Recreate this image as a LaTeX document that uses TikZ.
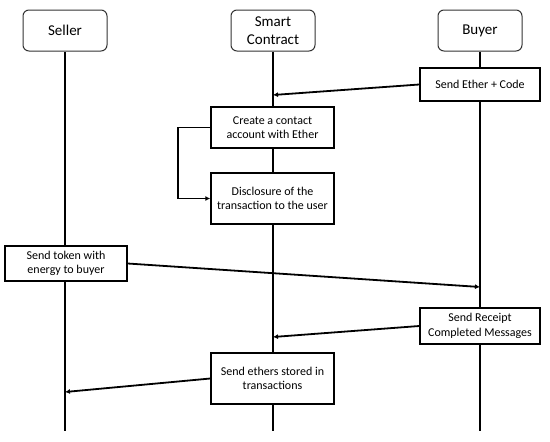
\documentclass[tikz,border=0pt]{standalone}
\usepackage{fontspec}
\setmainfont{Carlito}
\usetikzlibrary{arrows.meta, positioning, backgrounds}

\tikzset{
  actor/.style={draw=black!80, line width=1pt, rounded corners=6pt, fill=white,
    minimum width=84pt, minimum height=41pt, align=center, font=\fontsize{15}{18}\selectfont},
  action/.style={draw=black, line width=1.4pt, fill=white, inner sep=0pt,
    align=center, font=\fontsize{12}{14.5}\selectfont},
  lifeline/.style={line width=2.2pt},
  msg/.style={line width=1.8pt, -{Latex[length=5pt,width=5pt]}}
}

\begin{document}
\begin{tikzpicture}[x=1pt, y=-1pt]
\useasboundingbox (0,0) rectangle (550,442);

% Teilnehmer
\node[actor] (seller) at (65,30.5) {Seller};
\node[actor] (sc) at (273,30.5) {Smart\\Contract};
\node[actor] (buyer) at (480,30.5) {Buyer};

% Aktionen
\node[action, minimum width=120pt, minimum height=33pt] (ether) at (480,84.5) {Send Ether + Code};
\node[action, minimum width=123pt, minimum height=41pt] (create) at (272.5,127.5) {Create a contact\\account with Ether};
\node[action, minimum width=123pt, minimum height=51pt] (disc) at (272.5,198.5) {Disclosure of the\\transaction to the user};
\node[action, minimum width=122pt, minimum height=35pt] (token) at (66,263.5) {Send token with\\energy to buyer};
\node[action, minimum width=120pt, minimum height=36pt] (receipt) at (480,326) {Send Receipt\\Completed Messages};
\node[action, minimum width=123pt, minimum height=51pt] (ethers) at (272.5,378.5) {Send ethers stored in\\transactions};

% Endpunkte auf den Lebenslinien
\coordinate (sellerEnd) at (seller |- 0,431);
\coordinate (scEnd) at (sc |- 0,431);
\coordinate (buyerEnd) at (buyer |- 0,431);
\coordinate (scIn1) at (sc |- 0,95);
\coordinate (buyerIn) at (buyer |- 0,287);
\coordinate (scIn2) at (sc |- 0,337);
\coordinate (sellerIn) at (seller |- 0,392);

% Lebenslinien
\begin{scope}[on background layer]
\draw[lifeline] (seller.south) -- (sellerEnd);
\draw[lifeline] (sc.south) -- (scEnd);
\draw[lifeline] (buyer.south) -- (buyerEnd);
\end{scope}

% Nachrichten
\draw[msg] (ether.west) -- (scIn1);
\draw[msg] (create.west) -- ++(-32,0) |- (disc.west);
\draw[msg] (token.east) -- (buyerIn);
\draw[msg] (receipt.west) -- (scIn2);
\draw[msg] (ethers.west) -- (sellerIn);
\end{tikzpicture}
\end{document}
